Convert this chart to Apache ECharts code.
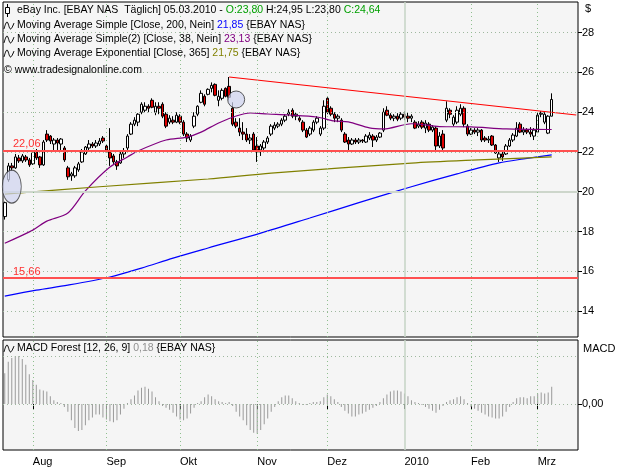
<!DOCTYPE html>
<html><head><meta charset="utf-8">
<script src="https://cdn.jsdelivr.net/npm/echarts@6/dist/echarts.min.js"></script>
<style>html,body{margin:0;padding:0;background:#fff}#c{width:625px;height:469px}</style>
</head><body><div id="c"></div>
<script>
// ---------- DATA ----------
const holidays = ['2009-09-07','2009-11-26','2009-12-25','2010-01-01','2010-01-18','2010-02-15'];
const monthNames = ['Jan','Feb','Mrz','Apr','Mai','Jun','Jul','Aug','Sep','Okt','Nov','Dez'];
const priceTicks = [14,16,18,20,22,24,26,28];

const opens = [18.75,20.6,21.3,21.2,21.7,21.55,21.75,21.6,21.4,22.0,21.75,21.35,22.9,22.8,22.4,22.6,22.4,22.2,21.2,20.8,
20.8,21.1,21.5,21.9,22.2,22.4,22.3,22.4,22.7,22.3,22.0,21.8,21.5,21.45,21.9,22.2,22.9,23.4,23.5,24.0,
24.1,24.3,24.6,24.0,24.3,24.4,23.9,23.5,23.6,23.5,23.8,23.5,22.9,22.6,23.3,23.9,24.5,24.8,24.9,25.2,
25.4,24.6,24.7,25.2,25.3,24.2,23.5,23.2,23.0,22.9,22.6,22.9,22.3,22.1,22.2,22.5,22.9,23.2,23.3,23.4,
23.6,23.9,24.1,23.8,23.7,23.5,23.1,22.9,23.1,23.5,22.9,23.2,24.7,24.2,23.9,23.7,23.6,22.9,22.6,22.4,
22.6,22.5,22.6,22.5,22.7,22.8,22.6,22.75,23.1,24.1,23.85,23.7,23.8,23.7,23.9,23.8,23.7,23.5,23.3,23.5,
23.2,23.4,23.1,23.2,22.3,22.9,23.6,24.1,23.4,23.5,23.9,24.2,23.3,22.9,23.1,23.0,23.1,22.7,22.6,22.8,
22.35,21.7,21.9,21.9,22.3,22.6,22.8,23.4,23.0,23.1,23.0,22.8,23.0,23.9,23.5,22.95,23.80];
const highs = [19.5,21.45,21.45,21.9,21.85,21.9,21.85,21.7,22.1,22.15,21.8,22.6,23.1,22.85,22.7,22.7,22.7,22.3,21.3,21.0,
21.3,21.5,22.15,22.3,22.6,22.5,22.6,22.7,22.8,22.4,23.2,21.9,21.6,22.0,22.2,22.9,23.5,23.75,23.95,24.5,
24.5,24.4,24.7,24.5,24.5,24.5,24.0,23.85,23.8,24.0,23.9,23.6,23.0,22.9,24.0,24.35,25.1,24.9,25.2,25.5,
25.45,25.1,25.2,25.25,25.77,24.5,23.7,23.7,23.5,23.2,22.9,23.0,22.75,22.4,22.6,22.8,23.4,23.5,23.5,23.7,
23.9,24.15,24.2,24.0,23.8,23.6,23.2,23.3,23.6,23.8,23.3,24.6,24.75,24.3,24.0,23.9,23.7,23.0,22.75,22.7,
22.7,22.7,22.65,22.9,23.0,22.9,22.85,23.0,24.2,24.3,23.95,23.9,23.95,24.0,24.05,24.0,23.9,23.6,23.55,23.6,
23.6,23.5,23.35,23.3,23.0,23.1,24.55,24.2,23.85,24.3,24.4,24.3,23.4,23.2,23.2,23.2,23.15,22.8,22.8,22.85,
22.4,22.05,22.0,22.4,22.7,22.95,23.5,23.5,23.25,23.2,23.25,23.2,24.0,24.05,24.0,23.85,24.95];
const lows = [18.6,20.5,21.05,21.15,21.45,21.45,21.5,21.25,21.35,21.6,21.2,21.3,22.5,22.4,22.1,22.1,22.1,21.5,20.6,20.55,
20.7,21.0,21.45,21.85,22.1,22.2,22.2,22.3,22.45,21.95,21.3,21.4,21.1,21.4,21.7,22.1,22.85,23.3,23.3,23.9,
24.0,24.0,24.2,23.85,23.9,23.7,23.2,23.4,23.4,23.45,23.4,22.8,22.5,22.5,23.2,23.8,24.45,24.3,24.85,25.0,
24.8,24.3,24.6,24.75,24.6,23.3,23.2,22.8,22.6,22.5,22.4,22.0,21.5,21.8,22.1,22.4,22.8,23.1,23.2,23.3,
23.5,23.8,23.7,23.6,23.5,23.0,22.7,22.8,23.0,23.4,22.8,23.1,23.9,23.8,23.5,23.5,23.0,22.45,22.1,22.35,
22.4,22.4,22.45,22.45,22.6,22.25,22.5,22.7,23.0,23.8,23.6,23.55,23.55,23.6,23.6,23.5,23.5,23.15,23.2,23.15,
22.95,23.0,23.0,22.1,22.2,22.1,23.5,23.7,23.3,23.4,23.8,23.25,22.8,22.85,22.9,22.8,22.5,22.5,22.45,22.3,
21.9,21.5,21.55,21.85,22.25,22.5,22.75,22.95,22.85,22.9,22.75,22.6,22.95,23.75,23.4,22.9,23.80];
const closes = [19.45,21.3,21.2,21.75,21.55,21.8,21.6,21.35,22.0,21.7,21.35,22.5,22.6,22.55,22.6,22.45,22.65,21.6,20.75,20.9,
21.2,21.4,22.0,22.25,22.4,22.3,22.45,22.55,22.55,22.0,21.7,21.5,21.3,21.9,22.05,22.8,23.4,23.6,23.9,24.4,
24.3,24.2,24.25,24.3,24.2,23.8,23.3,23.7,23.5,23.85,23.5,22.9,22.7,22.8,23.8,24.3,24.95,24.4,25.15,25.35,
24.85,24.8,25.1,24.8,24.75,23.4,23.3,23.0,22.9,22.6,22.7,22.1,22.0,22.3,22.5,22.7,23.3,23.35,23.4,23.6,
23.8,24.0,23.8,23.9,23.6,23.1,22.75,23.2,23.5,23.7,23.2,24.3,24.0,23.9,23.7,23.8,23.1,22.5,22.4,22.6,
22.5,22.6,22.55,22.8,22.85,22.6,22.75,22.95,24.0,23.85,23.7,23.8,23.65,23.9,23.75,23.7,23.8,23.2,23.4,23.25,
23.45,23.1,23.25,22.3,22.8,22.2,24.2,23.9,23.75,24.1,24.2,23.4,22.9,23.1,23.0,23.1,22.6,22.6,22.65,22.35,
21.95,21.9,21.75,22.3,22.6,22.85,23.2,23.0,23.1,23.0,22.9,23.1,23.85,23.95,23.9,23.8,24.64];

// moving averages: [dayIndex, value]
const sma200 = [[0,14.75],[9,15.05],[18,15.30],[30,15.71],[39,16.16],[48,16.66],[58,17.17],[73,17.92],[87,18.68],[101,19.45],[115,20.2],[129,20.9],[141,21.45],[148,21.65],[156,21.85]];
const sma38 = [[0,17.41],[8,18.07],[12,18.52],[18,18.93],[23,20.04],[30,21.24],[35,21.75],[38,22.05],[46,22.60],[52,22.75],[56,23.0],[61,23.46],[66,23.81],[70,23.96],[75,23.91],[81,23.86],[89,23.76],[94,23.56],[98,23.51],[104,23.21],[108,23.16],[116,23.42],[124,23.28],[133,23.26],[143,23.16],[156,23.13]];
const ema365 = [[0,19.88],[27,20.25],[58,20.64],[76,20.94],[116,21.44],[135,21.6],[156,21.75]];
const trendPoints = [[64,25.77],[163,23.86]];
const levelLines = [22.06, 15.66];
const circleA = [[2,20.26]];
const circleB = [[66,24.64]];
const macd = [0.32,0.44,0.48,0.50,0.50,0.47,0.41,0.31,0.25,0.20,0.15,0.14,0.13,0.08,0.04,0.02,0.01,-0.03,-0.08,-0.17,
-0.25,-0.28,-0.27,-0.22,-0.17,-0.14,-0.11,-0.11,-0.14,-0.16,-0.18,-0.19,-0.17,-0.11,-0.05,0.01,0.05,0.09,0.14,0.17,
0.18,0.16,0.13,0.07,0.03,-0.02,-0.04,-0.06,-0.09,-0.13,-0.16,-0.17,-0.15,-0.10,-0.04,0.01,0.03,0.07,0.10,0.08,
0.05,0.03,0.02,0.01,0.02,-0.02,-0.08,-0.13,-0.17,-0.22,-0.27,-0.30,-0.31,-0.27,-0.21,-0.15,-0.08,-0.03,0.03,0.07,
0.09,0.09,0.06,0.03,0.01,-0.01,-0.01,0.01,0.02,0.02,0.03,0.07,0.10,0.08,0.05,0.02,-0.03,-0.07,-0.10,-0.13,
-0.13,-0.11,-0.10,-0.08,-0.06,-0.04,-0.02,0.02,0.06,0.10,0.13,0.14,0.14,0.13,0.11,0.08,0.04,0.02,0.01,-0.01,
-0.03,-0.05,-0.07,-0.09,-0.06,-0.02,0.02,0.04,0.05,0.07,0.08,0.05,0.01,-0.03,-0.05,-0.07,-0.09,-0.11,-0.13,-0.14,
-0.15,-0.15,-0.13,-0.08,-0.03,0.02,0.06,0.07,0.07,0.06,0.08,0.08,0.11,0.12,0.11,0.12,0.18];

// ---------- build ----------
function buildDates(){
  const out=[]; let t=Date.UTC(2009,6,22); const end=Date.UTC(2010,2,5);
  while(t<=end){const d=new Date(t);const wd=d.getUTCDay();const s=d.toISOString().slice(0,10);
    if(wd!==0&&wd!==6&&holidays.indexOf(s)<0) out.push(s); t+=86400000;}
  return out;
}
const dates = buildDates();
const PAD = 7;
const categories = dates.concat(Array.from({length:PAD},(_,k)=>'pad'+k));
const monthStarts = [];
for(let i=1;i<dates.length;i++){ if(dates[i].slice(0,7)!==dates[i-1].slice(0,7)) monthStarts.push(i); }
const isMonthStart = i => monthStarts.indexOf(i)>=0;
const monthLabel = v => { const m=+v.slice(5,7); return m===1 ? v.slice(0,4) : monthNames[m-1]; };
const fmt = v => v.toFixed(2).replace('.',',');
const candleData = opens.map((o,i)=>[o,closes[i],lows[i],highs[i]]);
const FONT = "'Liberation Sans', Arial, sans-serif";
const LF = '10.5px '+FONT;
const dotGrid = {color:'#9fb89f', width:1, type:[1,3]};

function vLines(){
  return monthStarts.map(i=>({xAxis: dates[i], lineStyle: dates[i].slice(5,7)==='01'
      ? {color:'#c5d3c5', width:1.5, type:'solid'} : {color:'#8fbf8f', width:1, type:[1,3]}}));
}
const li = dates.length-1;
const chart = echarts.init(document.getElementById('c'), null, {renderer:'canvas'});
const icon = (y) => ({type:'polyline', z:10, shape:{points:[[4,y+4],[7,y-3],[10.5,y+4],[14,y-2]], smooth:0.4}, style:{stroke:'#000', lineWidth:1, fill:null}});
const legendText = (x, y, text, rich) => ({type:'text', x:x, y:y, z:10, style:{font:LF, verticalAlign:'middle', fill:'#000', text:text, rich:rich||{}}});
chart.setOption({
  animation:false,
  backgroundColor:'#ffffff',
  textStyle:{fontFamily:FONT},
  grid:[
    {left:3, width:575, top:2, height:335, show:true, borderColor:'#000', borderWidth:1, backgroundColor:'#f5f5f5', outerBoundsMode:'none'},
    {left:3, width:575, top:340, height:110, show:true, borderColor:'#000', borderWidth:1, backgroundColor:'#f5f5f5', outerBoundsMode:'none'}
  ],
  xAxis:[
    {type:'category', gridIndex:0, data:categories, boundaryGap:true, axisLine:{show:false}, axisTick:{show:false}, axisLabel:{show:false}, splitLine:{show:false}},
    {type:'category', gridIndex:1, data:categories, boundaryGap:true, axisLine:{show:false},
      axisTick:{show:true, alignWithLabel:true, interval:(i)=>isMonthStart(i), length:5, lineStyle:{color:'#000'}},
      axisLabel:{show:true, interval:(i)=>isMonthStart(i), formatter:monthLabel, align:'left', margin:6, color:'#000', fontSize:11, fontFamily:FONT},
      splitLine:{show:false}}
  ],
  yAxis:[
    {type:'value', gridIndex:0, position:'right', min:12.693, max:29.544, scale:true,
      axisLine:{show:false},
      axisTick:{show:true, customValues:priceTicks, length:4, lineStyle:{color:'#000'}},
      axisLabel:{show:true, customValues:priceTicks, margin:4, color:'#000', fontSize:11, fontFamily:FONT},
      splitLine:{show:false}},
    {type:'value', gridIndex:1, position:'right', min:-0.479, max:0.667,
      axisLine:{show:false},
      axisTick:{show:true, customValues:[0], length:4, lineStyle:{color:'#000'}},
      axisLabel:{show:true, customValues:[0], formatter:v=>fmt(v), margin:4, color:'#000', fontSize:11, fontFamily:FONT},
      splitLine:{show:false}}
  ],
  series:[
    {type:'line', name:'gridMain', xAxisIndex:0, yAxisIndex:0, data:[], z:1, silent:true,
      markLine:{silent:true, symbol:['none','none'], label:{show:false}, animation:false,
        data: priceTicks.filter(v=>v!==20).map(v=>({yAxis:v, lineStyle:dotGrid}))
          .concat([{yAxis:20, lineStyle:{color:'#cdd6cb', width:2, type:'solid'}}])
          .concat(vLines())}},
    {type:'line', name:'gridMacd', xAxisIndex:1, yAxisIndex:1, data:[], z:1, silent:true,
      markLine:{silent:true, symbol:['none','none'], label:{show:false}, animation:false,
        data: [{yAxis:0, lineStyle:dotGrid},{yAxis:0.5, lineStyle:dotGrid}].concat(vLines())}},
    {type:'candlestick', name:'EBAY', xAxisIndex:0, yAxisIndex:0, data:candleData, barWidth:3, z:3,
      itemStyle:{color:'#ffffff', color0:'#e00000', borderColor:'#000000', borderColor0:'#000000', borderWidth:1}},
    {type:'line', name:'SMA200', data:sma200, showSymbol:false, smooth:0.3, z:4, lineStyle:{color:'#0000ff', width:1.2}},
    {type:'line', name:'SMA38', data:sma38, showSymbol:false, smooth:0.3, z:4, lineStyle:{color:'#800080', width:1.2}},
    {type:'line', name:'EMA365', data:ema365, showSymbol:false, smooth:0.3, z:4, lineStyle:{color:'#808000', width:1.2}},
    {type:'line', name:'Trend', data:trendPoints, showSymbol:false, z:4, lineStyle:{color:'#ff0000', width:1.2}},
    {type:'line', name:'levels', data:[], z:4, silent:true,
      markLine:{silent:true, symbol:['none','none'], animation:false,
        lineStyle:{color:'#ff5050', width:2, type:'solid'},
        label:{show:true, position:'insideStartTop', formatter:p=>fmt(p.value), color:'#ff3030', fontSize:11, fontFamily:FONT, distance:[10,1]},
        data: levelLines.map(v=>({yAxis:v}))}},
    {type:'scatter', name:'circA', data:circleA, symbol:'circle', symbolSize:[19,33], z:6, silent:true,
      itemStyle:{color:'rgba(208,212,240,0.9)', borderColor:'#333', borderWidth:1}},
    {type:'scatter', name:'circB', data:circleB, symbol:'circle', symbolSize:17, z:6, silent:true,
      itemStyle:{color:'rgba(208,212,240,0.9)', borderColor:'#333', borderWidth:1}},
    {type:'bar', name:'MACD', xAxisIndex:1, yAxisIndex:1, data:macd, barWidth:1, z:3, itemStyle:{color:'#9a9a9a'}}
  ],
  graphic:[
    {type:'line', shape:{x1:7.5,y1:4,x2:7.5,y2:17}, style:{stroke:'#000', lineWidth:1}, z:10},
    {type:'rect', shape:{x:5.5,y:7.5,width:4,height:6}, style:{stroke:'#000', fill:'#fff', lineWidth:1}, z:11},
    legendText(17, 10, 'eBay Inc. [EBAY NAS  Täglich] 05.03.2010 - {g|O:'+fmt(opens[li])+'} H:'+fmt(highs[li])+' L:'+fmt(lows[li])+' {g|C:'+fmt(closes[li])+'}',
      {g:{fill:'#00a000', font:LF}}),
    icon(25),
    legendText(17, 25, 'Moving Average Simple [Close, 200, Nein] {b|21,85} {EBAY NAS}', {b:{fill:'#0000ff', font:LF}}),
    icon(39),
    legendText(17, 39, 'Moving Average Simple(2) [Close, 38, Nein] {p|23,13} {EBAY NAS}', {p:{fill:'#800080', font:LF}}),
    icon(53),
    legendText(17, 53, 'Moving Average Exponential [Close, 365] {o|21,75} {EBAY NAS}', {o:{fill:'#808000', font:LF}}),
    legendText(4, 70, '© www.tradesignalonline.com'),
    icon(348),
    legendText(17, 348, 'MACD Forest [12, 26, 9] {m|'+fmt(macd[li])+'} {EBAY NAS}', {m:{fill:'#909090', font:LF}}),
    {type:'text', x:585, y:9, z:10, style:{font:'11px '+FONT, verticalAlign:'middle', fill:'#000', text:'$'}},
    {type:'text', x:583, y:349, z:10, style:{font:'11px '+FONT, verticalAlign:'middle', fill:'#000', text:'MACD'}}
  ]
});
</script></body></html>
